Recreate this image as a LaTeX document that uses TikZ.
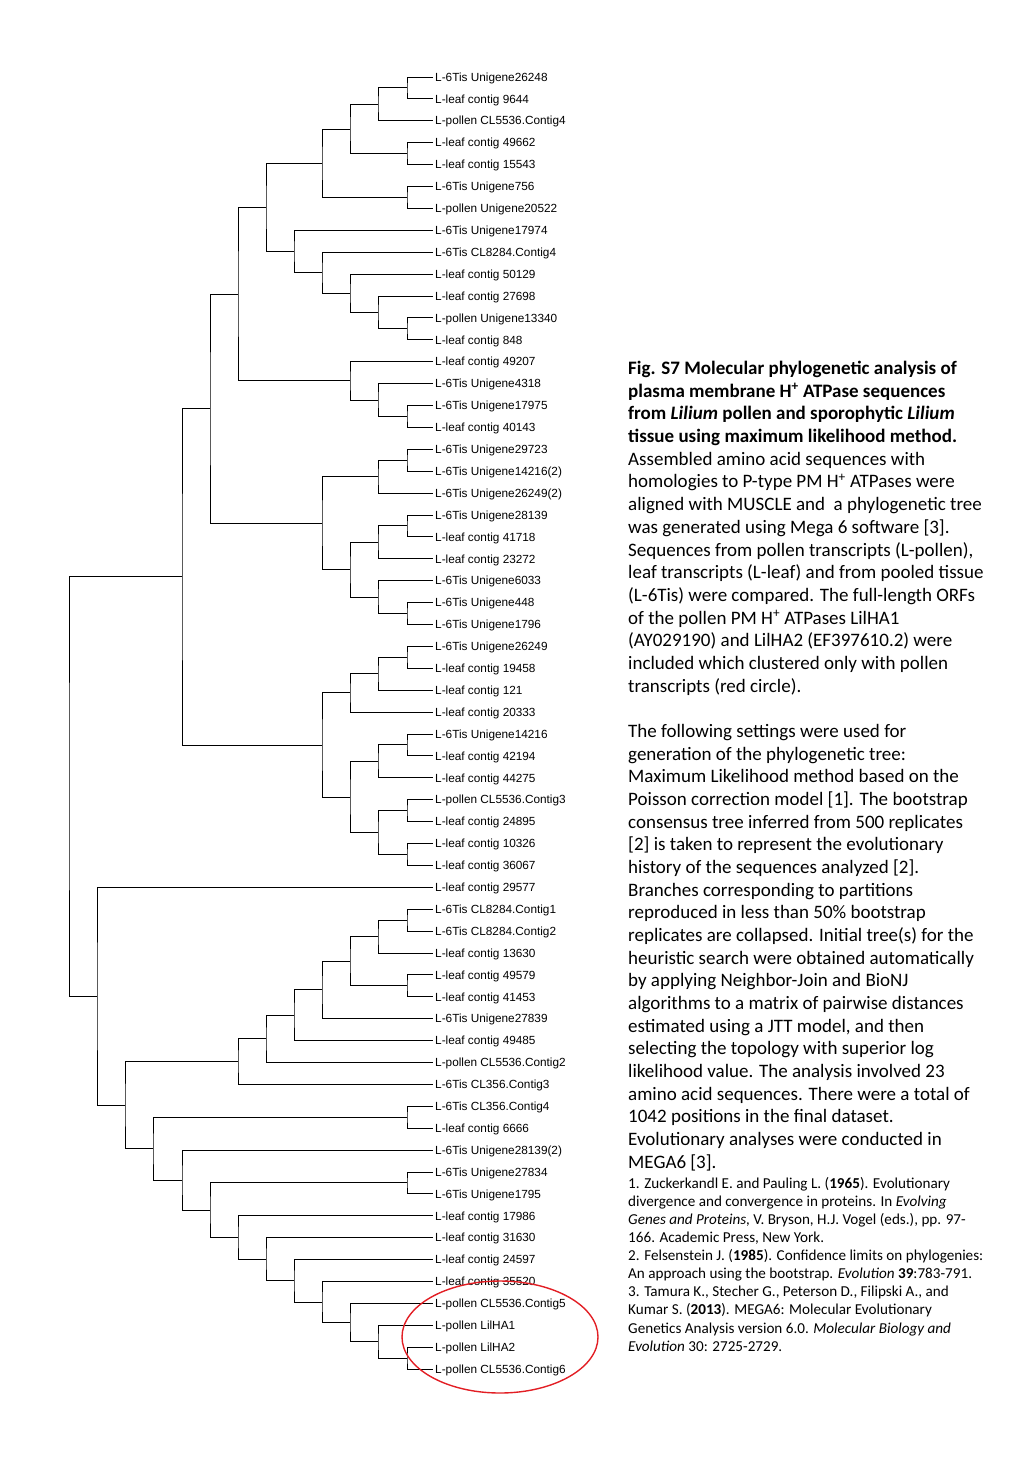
\documentclass[tikz,border=0pt]{standalone}
\usepackage{fontspec}
\usepackage{tikz}
\newfontfamily\treefont{Liberation Sans}
\newfontfamily\capfont{Carlito}
\definecolor{circred}{RGB}{226,30,36}

\begin{document}
\begin{tikzpicture}[x=1pt,y=-1pt,
	branch/.style={draw=black,line width=0.95pt},
	leaf/.style={anchor=west,inner sep=2pt,font=\treefont\fontsize{11.8}{13}\selectfont,text height=8.4pt,text depth=0pt},
	capbig/.style={anchor=north west,inner sep=0pt,align=left,font=\capfont\fontsize{19}{22.68}\selectfont},
	capsmall/.style={anchor=north west,inner sep=0pt,align=left,font=\capfont\fontsize{15.15}{18.1}\selectfont}]
\useasboundingbox (0,0) rectangle (1024,1479);

% leaves
\foreach \lab [count=\i] in {L-6Tis Unigene26248,
	L-leaf contig 9644,
	L-pollen CL5536.Contig4,
	L-leaf contig 49662,
	L-leaf contig 15543,
	L-6Tis Unigene756,
	L-pollen Unigene20522,
	L-6Tis Unigene17974,
	L-6Tis CL8284.Contig4,
	L-leaf contig 50129,
	L-leaf contig 27698,
	L-pollen Unigene13340,
	L-leaf contig 848,
	L-leaf contig 49207,
	L-6Tis Unigene4318,
	L-6Tis Unigene17975,
	L-leaf contig 40143,
	L-6Tis Unigene29723,
	L-6Tis Unigene14216(2),
	L-6Tis Unigene26249(2),
	L-6Tis Unigene28139,
	L-leaf contig 41718,
	L-leaf contig 23272,
	L-6Tis Unigene6033,
	L-6Tis Unigene448,
	L-6Tis Unigene1796,
	L-6Tis Unigene26249,
	L-leaf contig 19458,
	L-leaf contig 121,
	L-leaf contig 20333,
	L-6Tis Unigene14216,
	L-leaf contig 42194,
	L-leaf contig 44275,
	L-pollen CL5536.Contig3,
	L-leaf contig 24895,
	L-leaf contig 10326,
	L-leaf contig 36067,
	L-leaf contig 29577,
	L-6Tis CL8284.Contig1,
	L-6Tis CL8284.Contig2,
	L-leaf contig 13630,
	L-leaf contig 49579,
	L-leaf contig 41453,
	L-6Tis Unigene27839,
	L-leaf contig 49485,
	L-pollen CL5536.Contig2,
	L-6Tis CL356.Contig3,
	L-6Tis CL356.Contig4,
	L-leaf contig 6666,
	L-6Tis Unigene28139(2),
	L-6Tis Unigene27834,
	L-6Tis Unigene1795,
	L-leaf contig 17986,
	L-leaf contig 31630,
	L-leaf contig 24597,
	L-leaf contig 35520,
	L-pollen CL5536.Contig5,
	L-pollen LilHA1,
	L-pollen LilHA2,
	L-pollen CL5536.Contig6}
	\node[leaf] (t\i) at (433,{77+(\i-1)*21.9}) {\lab};

% inner nodes
\coordinate (n1-2) at (407,87.95);
\coordinate (n1-3) at (378,104.4);
\coordinate (n4-5) at (407,153.65);
\coordinate (n1-5) at (350,129.0);
\coordinate (n6-7) at (407,197.45);
\coordinate (n1-7) at (322,163.2);
\coordinate (n12-13) at (407,328.85);
\coordinate (n11-13) at (378,312.4);
\coordinate (n10-13) at (350,293.25);
\coordinate (n9-13) at (322,272.7);
\coordinate (n8-13) at (294,251.5);
\coordinate (n1-13) at (266,207.35);
\coordinate (n16-17) at (407,416.45);
\coordinate (n15-17) at (378,400.0);
\coordinate (n14-17) at (350,380.85);
\coordinate (n1-17) at (238,294.1);
\coordinate (n18-19) at (407,460.25);
\coordinate (n18-20) at (378,476.7);
\coordinate (n21-22) at (407,525.95);
\coordinate (n21-23) at (378,542.4);
\coordinate (n25-26) at (407,613.55);
\coordinate (n24-26) at (378,597.1);
\coordinate (n21-26) at (350,569.75);
\coordinate (n18-26) at (322,523.2);
\coordinate (n1-26) at (210,408.65);
\coordinate (n27-28) at (407,657.35);
\coordinate (n27-29) at (378,673.8);
\coordinate (n27-30) at (350,692.95);
\coordinate (n31-32) at (407,744.95);
\coordinate (n31-33) at (378,761.4);
\coordinate (n34-35) at (407,810.65);
\coordinate (n36-37) at (407,854.45);
\coordinate (n34-37) at (378,832.55);
\coordinate (n31-37) at (350,797.0);
\coordinate (n27-37) at (322,745.0);
\coordinate (n1-37) at (182,576.8);
\coordinate (n39-40) at (407,920.15);
\coordinate (n39-41) at (378,936.6);
\coordinate (n42-43) at (407,985.85);
\coordinate (n39-43) at (350,961.2);
\coordinate (n39-44) at (322,989.95);
\coordinate (n39-45) at (294,1015.3);
\coordinate (n39-46) at (266,1038.9);
\coordinate (n39-47) at (238,1061.65);
\coordinate (n48-49) at (407,1117.25);
\coordinate (n51-52) at (407,1182.95);
\coordinate (n59-60) at (407,1358.15);
\coordinate (n58-60) at (378,1341.7);
\coordinate (n57-60) at (350,1322.55);
\coordinate (n56-60) at (322,1302.0);
\coordinate (n55-60) at (294,1280.8);
\coordinate (n54-60) at (266,1259.25);
\coordinate (n53-60) at (238,1237.5);
\coordinate (n51-60) at (210,1210.2);
\coordinate (n50-60) at (182,1180.15);
\coordinate (n48-60) at (153,1148.7);
\coordinate (n39-60) at (125,1105.2);
\coordinate (n38-60) at (97,996.25);
\coordinate (n1-60) at (69,786.5);

% branches: parent/upper child/lower child
\foreach \p/\a/\b in {n1-2/t1/t2, n1-3/n1-2/t3, n4-5/t4/t5, n1-5/n1-3/n4-5,
	n6-7/t6/t7, n1-7/n1-5/n6-7, n12-13/t12/t13, n11-13/t11/n12-13,
	n10-13/t10/n11-13, n9-13/t9/n10-13, n8-13/t8/n9-13, n1-13/n1-7/n8-13,
	n16-17/t16/t17, n15-17/t15/n16-17, n14-17/t14/n15-17, n1-17/n1-13/n14-17,
	n18-19/t18/t19, n18-20/n18-19/t20, n21-22/t21/t22, n21-23/n21-22/t23,
	n25-26/t25/t26, n24-26/t24/n25-26, n21-26/n21-23/n24-26, n18-26/n18-20/n21-26,
	n1-26/n1-17/n18-26, n27-28/t27/t28, n27-29/n27-28/t29, n27-30/n27-29/t30,
	n31-32/t31/t32, n31-33/n31-32/t33, n34-35/t34/t35, n36-37/t36/t37,
	n34-37/n34-35/n36-37, n31-37/n31-33/n34-37, n27-37/n27-30/n31-37, n1-37/n1-26/n27-37,
	n39-40/t39/t40, n39-41/n39-40/t41, n42-43/t42/t43, n39-43/n39-41/n42-43,
	n39-44/n39-43/t44, n39-45/n39-44/t45, n39-46/n39-45/t46, n39-47/n39-46/t47,
	n48-49/t48/t49, n51-52/t51/t52, n59-60/t59/t60, n58-60/t58/n59-60,
	n57-60/t57/n58-60, n56-60/t56/n57-60, n55-60/t55/n56-60, n54-60/t54/n55-60,
	n53-60/t53/n54-60, n51-60/n51-52/n53-60, n50-60/t50/n51-60, n48-60/n48-49/n50-60,
	n39-60/n39-47/n48-60, n38-60/t38/n39-60, n1-60/n1-37/n38-60}
	\draw[branch] (\a) -| (\p) |- (\b);

% pollen cluster
\draw[circred,line width=1.4pt] (500,1337) ellipse [x radius=98pt,y radius=56pt];

% caption
\node[capbig] (cap1) at (628,361) {\textbf{Fig. S7 Molecular phylogenetic analysis of}\\
	\textbf{plasma membrane H\textsuperscript{+} ATPase sequences}\\
	\textbf{from \textit{Lilium} pollen and sporophytic \textit{Lilium}}\\
	\textbf{tissue using maximum likelihood method.}\\
	Assembled amino acid sequences with\\
	homologies to P-type PM H\textsuperscript{+} ATPases were\\
	aligned with MUSCLE and\ \ a phylogenetic tree\\
	was generated using Mega 6 software [3].\\
	Sequences from pollen transcripts (L-pollen),\\
	leaf transcripts (L-leaf) and from pooled tissue\\
	(L-6Tis) were compared. The full-length ORFs\\
	of the pollen PM H\textsuperscript{+} ATPases LilHA1\\
	(AY029190) and LilHA2 (EF397610.2) were\\
	included which clustered only with pollen\\
	transcripts (red circle).};
\node[capbig] (cap2) at (628,724) {The following settings were used for\\
	generation of the phylogenetic tree:\\
	Maximum Likelihood method based on the\\
	Poisson correction model [1]. The bootstrap\\
	consensus tree inferred from 500 replicates\\
	{[2]} is taken to represent the evolutionary\\
	history of the sequences analyzed [2].\\
	Branches corresponding to partitions\\
	reproduced in less than 50\% bootstrap\\
	replicates are collapsed. Initial tree(s) for the\\
	heuristic search were obtained automatically\\
	by applying Neighbor-Join and BioNJ\\
	algorithms to a matrix of pairwise distances\\
	estimated using a JTT model, and then\\
	selecting the topology with superior log\\
	likelihood value. The analysis involved 23\\
	amino acid sequences. There were a total of\\
	1042 positions in the final dataset.\\
	Evolutionary analyses were conducted in\\
	MEGA6 [3].};
\node[capsmall] (cap3) at (628,1177) {1. Zuckerkandl E. and Pauling L. (\textbf{1965}). Evolutionary\\
	divergence and convergence in proteins. In \textit{Evolving}\\
	\textit{Genes and Proteins,} V. Bryson, H.J. Vogel (eds.), pp. 97-\\
	166. Academic Press, New York.\\
	2. Felsenstein J. (\textbf{1985}). Confidence limits on phylogenies:\\
	An approach using the bootstrap. \textit{Evolution} \textbf{39}:783-791.\\
	3. Tamura K., Stecher G., Peterson D., Filipski A., and\\
	Kumar S. (\textbf{2013}). MEGA6: Molecular Evolutionary\\
	Genetics Analysis version 6.0. \textit{Molecular Biology and}\\
	\textit{Evolution} 30: 2725-2729.};
\end{tikzpicture}
\end{document}
